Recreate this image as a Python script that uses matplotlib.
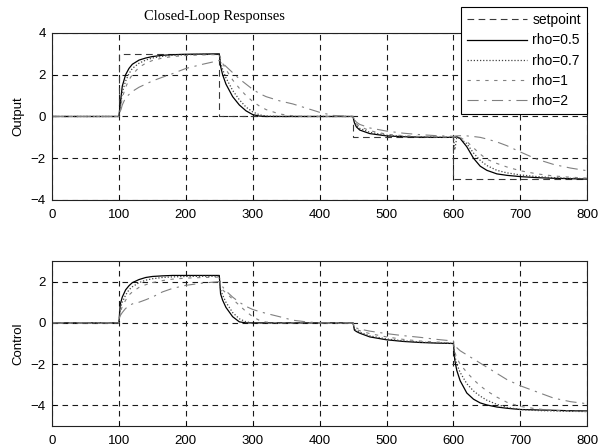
import matplotlib
matplotlib.use("Agg")
import matplotlib.pyplot as plt

# ---------------- data ----------------
t = [0, 100, 102, 105, 110, 115, 120, 130, 140, 150, 165, 180, 200, 225, 250,
     252, 255, 260, 270, 280, 290, 300, 310, 320, 340, 360, 380, 400, 420, 450,
     452, 455, 460, 475, 500, 525, 550, 575, 600,
     602, 605, 610, 620, 630, 640, 650, 665, 680, 700, 725, 750, 775, 800]

setpoint_t = [0, 100, 100, 250, 250, 450, 450, 600, 600, 800]
setpoint_v = [0, 0, 3, 3, 0, 0, -1, -1, -3, -3]

# Output responses
y_rho05 = [0, 0, 0.6, 1.45, 2.0, 2.3, 2.5, 2.7, 2.8, 2.87, 2.93, 2.96, 2.98, 2.99, 3.0,
           2.4, 2.0, 1.55, 0.95, 0.55, 0.27, 0.09, 0.02, 0, 0, 0, 0, 0, 0, 0,
           -0.3, -0.5, -0.65, -0.82, -0.93, -0.97, -0.99, -1.0, -1.0,
           -1.0, -0.97, -1.05, -1.45, -2.0, -2.38, -2.58, -2.75, -2.82, -2.88, -2.93, -2.96, -2.98, -3.0]
y_rho07 = [0, 0, 0.4, 1.15, 1.7, 2.05, 2.3, 2.55, 2.7, 2.8, 2.88, 2.93, 2.96, 2.98, 2.99,
           2.6, 2.25, 1.85, 1.25, 0.8, 0.45, 0.22, 0.08, 0.02, 0, 0, 0, 0, 0, 0,
           -0.25, -0.42, -0.57, -0.76, -0.9, -0.95, -0.98, -0.99, -1.0,
           -1.6, -1.0, -1.05, -1.3, -1.75, -2.1, -2.35, -2.58, -2.7, -2.8, -2.88, -2.93, -2.96, -2.98]
y_rho1 = [0, 0, 0.3, 0.9, 1.4, 1.75, 2.0, 2.35, 2.55, 2.68, 2.8, 2.87, 2.92, 2.95, 2.97,
          2.8, 2.55, 2.25, 1.75, 1.35, 1.0, 0.72, 0.5, 0.33, 0.12, 0.03, 0, 0, 0, 0,
          -0.2, -0.35, -0.48, -0.68, -0.85, -0.92, -0.96, -0.98, -0.99,
          -1.0, -0.97, -1.0, -1.2, -1.5, -1.8, -2.05, -2.25, -2.42, -2.6, -2.75, -2.85, -2.91, -2.95]
y_rho2 = [0, 0, 0.2, 0.55, 0.9, 1.05, 1.2, 1.4, 1.55, 1.7, 1.88, 2.05, 2.3, 2.5, 2.68,
          2.65, 2.55, 2.4, 2.1, 1.8, 1.55, 1.3, 1.1, 0.95, 0.75, 0.6, 0.4, 0.2, 0.05, 0,
          -0.15, -0.27, -0.38, -0.55, -0.7, -0.8, -0.87, -0.92, -0.95,
          -0.94, -0.93, -0.92, -0.93, -0.96, -1.0, -1.08, -1.22, -1.4, -1.7, -2.05, -2.3, -2.47, -2.6]

# Control signals
u_rho05 = [0, 0, 0.9, 1.25, 1.6, 1.8, 1.95, 2.1, 2.2, 2.25, 2.28, 2.3, 2.3, 2.3, 2.3,
           1.4, 1.1, 0.75, 0.3, 0.05, 0, 0, 0, 0, 0, 0, 0, 0, 0, 0,
           -0.35, -0.42, -0.5, -0.68, -0.82, -0.9, -0.95, -0.98, -1.0,
           -1.8, -2.3, -2.8, -3.4, -3.7, -3.88, -3.98, -4.08, -4.14, -4.2, -4.22, -4.24, -4.26, -4.27]
u_rho07 = [0, 0, 0.7, 1.0, 1.35, 1.6, 1.75, 1.95, 2.07, 2.14, 2.2, 2.23, 2.25, 2.26, 2.26,
           1.6, 1.35, 1.0, 0.5, 0.2, 0.05, 0, 0, 0, 0, 0, 0, 0, 0, 0,
           -0.3, -0.38, -0.45, -0.63, -0.78, -0.87, -0.93, -0.97, -0.99,
           -1.6, -2.0, -2.4, -2.95, -3.3, -3.55, -3.75, -3.95, -4.1, -4.2, -4.25, -4.27, -4.29, -4.3]
u_rho1 = [0, 0, 0.5, 0.8, 1.1, 1.35, 1.5, 1.72, 1.85, 1.95, 2.05, 2.12, 2.17, 2.2, 2.22,
          1.8, 1.6, 1.45, 1.15, 0.85, 0.55, 0.3, 0.12, 0.04, 0, 0, 0, 0, 0, 0,
          -0.25, -0.32, -0.38, -0.52, -0.68, -0.8, -0.88, -0.93, -0.97,
          -1.4, -1.7, -2.0, -2.4, -2.75, -3.05, -3.3, -3.6, -3.85, -4.05, -4.17, -4.25, -4.28, -4.3]
u_rho2 = [0, 0, 0.35, 0.5, 0.7, 0.82, 0.92, 1.0, 1.12, 1.25, 1.5, 1.67, 1.82, 1.93, 2.0,
          1.9, 1.75, 1.55, 1.25, 1.0, 0.8, 0.65, 0.55, 0.46, 0.3, 0.13, 0.05, 0, 0, 0,
          -0.2, -0.25, -0.3, -0.4, -0.52, -0.62, -0.7, -0.8, -0.88,
          -1.1, -1.2, -1.35, -1.55, -1.75, -1.95, -2.15, -2.45, -2.75, -3.05, -3.35, -3.65, -3.82, -3.92]

labels = ["setpoint", "rho=0.5", "rho=0.7", "rho=1", "rho=2"]
x_ticks = [0, 100, 200, 300, 400, 500, 600, 700, 800]
y_ticks_out = [-4, -2, 0, 2, 4]
y_ticks_ctl = [-4, -2, 0, 2]

# ---------------- styling ----------------
plt.rcParams['font.family'] = ['Liberation Sans', 'DejaVu Sans']

styles = {
    "setpoint": dict(color="#3a3a3a", lw=0.8, dashes=(6, 4)),
    "rho=0.5": dict(color="black", lw=0.9, linestyle="-"),
    "rho=0.7": dict(color="#444444", lw=0.9, dashes=(1, 1.5)),
    "rho=1": dict(color="#808080", lw=0.8, dashes=(3, 5)),
    "rho=2": dict(color="#808080", lw=0.8, dashes=(10, 5, 2, 5)),
}

fig = plt.figure(figsize=(6.0, 4.48), dpi=100)
ax1 = fig.add_axes([0.0867, 0.5536, 0.892, 0.3728])
ax2 = fig.add_axes([0.0867, 0.0491, 0.892, 0.3683])

h = []
h += ax1.plot(setpoint_t, setpoint_v, label=labels[0], **styles["setpoint"])
for lab, ys in zip(labels[1:], [y_rho05, y_rho07, y_rho1, y_rho2]):
    h += ax1.plot(t, ys, label=lab, **styles[lab])
for lab, us in zip(labels[1:], [u_rho05, u_rho07, u_rho1, u_rho2]):
    ax2.plot(t, us, **styles[lab])

for ax, yt, ylim, ylab in [(ax1, y_ticks_out, (-4, 4), "Output"),
                           (ax2, y_ticks_ctl, (-5, 3), "Control")]:
    ax.set_xlim(0, 800)
    ax.set_ylim(*ylim)
    ax.set_xticks(x_ticks)
    ax.set_yticks(yt)
    ax.tick_params(direction="in", length=3, labelsize=9.5, pad=4.5, width=0.6)
    ax.tick_params(axis="x", pad=6.5)
    ax.grid(True, color="#1a1a1a", lw=0.8, dashes=(5, 4))
    for s in ax.spines.values():
        s.set_linewidth(0.8)
        s.set_color("#222222")
    ax.set_ylabel(ylab, fontsize=9.5)
    ax.yaxis.set_label_coords(-0.052, 0.5)

ax1.text(0.303, 1.096, "Closed-Loop Responses", transform=ax1.transAxes,
         ha="center", va="center", fontsize=10.5, family=["Liberation Serif", "DejaVu Serif"])

leg = ax1.legend(handles=h, loc="upper right", bbox_to_anchor=(1.0, 1.156),
                 borderaxespad=0, fontsize=10, handlelength=4.3, handletextpad=0.4,
                 labelspacing=0.45, borderpad=0.45, fancybox=False, framealpha=1,
                 edgecolor="black")
leg.get_frame().set_linewidth(0.8)
leg.set_zorder(10)

fig.savefig("out.png", dpi=100)
